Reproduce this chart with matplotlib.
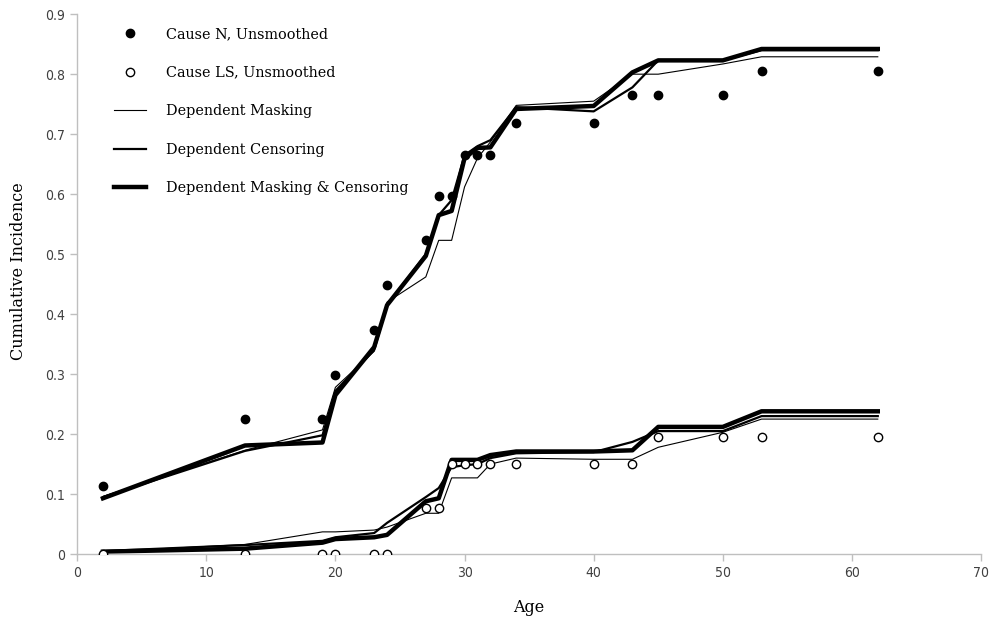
import numpy as np
import matplotlib
matplotlib.use("Agg")
import matplotlib.pyplot as plt

# ages at which the estimates are given
ages = [2, 13, 19, 20, 23, 24, 27, 28, 29, 30, 31, 32, 34, 40, 43, 45, 50, 53, 62]

# cause N
n_unsmoothed = [0.113, 0.225, 0.225, 0.298, 0.373, 0.448, 0.523, 0.597, 0.597, 0.665,
                0.665, 0.665, 0.718, 0.718, 0.765, 0.765, 0.765, 0.806, 0.806]
n_masking = [0.096, 0.173, 0.207, 0.278, 0.338, 0.420, 0.462, 0.523, 0.523, 0.612,
             0.660, 0.687, 0.748, 0.755, 0.800, 0.800, 0.817, 0.829, 0.829]
n_censoring = [0.095, 0.172, 0.198, 0.272, 0.340, 0.415, 0.500, 0.565, 0.590, 0.665,
               0.680, 0.690, 0.745, 0.738, 0.778, 0.823, 0.823, 0.840, 0.840]
n_both = [0.093, 0.181, 0.186, 0.265, 0.345, 0.415, 0.497, 0.565, 0.572, 0.660,
          0.677, 0.678, 0.742, 0.747, 0.803, 0.823, 0.823, 0.842, 0.842]

# cause LS
ls_unsmoothed = [0, 0, 0, 0, 0, 0, 0.077, 0.077, 0.150, 0.150,
                 0.150, 0.150, 0.150, 0.150, 0.150, 0.195, 0.195, 0.195, 0.195]
ls_masking = [0.004, 0.016, 0.037, 0.037, 0.040, 0.045, 0.068, 0.068, 0.127, 0.127,
              0.127, 0.150, 0.160, 0.158, 0.158, 0.178, 0.203, 0.225, 0.225]
ls_censoring = [0.005, 0.015, 0.022, 0.028, 0.035, 0.052, 0.095, 0.110, 0.145, 0.148,
                0.150, 0.160, 0.168, 0.170, 0.187, 0.205, 0.205, 0.230, 0.230]
ls_both = [0.004, 0.009, 0.019, 0.025, 0.028, 0.032, 0.088, 0.093, 0.157, 0.157,
           0.157, 0.165, 0.171, 0.171, 0.173, 0.212, 0.212, 0.238, 0.238]

serif = ['DejaVu Serif']
grey = '#bfbfbf'

fig = plt.figure(figsize=(9.89, 6.17), dpi=100)
ax = fig.add_axes([0.078, 0.102, 0.914, 0.875])

ax.plot(ages, n_unsmoothed, 'o', color='black', ms=6, label='Cause N, Unsmoothed', zorder=5)
ax.plot(ages, ls_unsmoothed, 'o', mfc='white', mec='black', mew=1.0, ms=6,
        label='Cause LS, Unsmoothed', zorder=5)

ax.plot(ages, n_masking, color='black', lw=0.8, label='Dependent Masking')
ax.plot(ages, n_censoring, color='black', lw=1.6, label='Dependent Censoring')
ax.plot(ages, n_both, color='black', lw=3.2, label='Dependent Masking & Censoring')
ax.plot(ages, ls_masking, color='black', lw=0.8)
ax.plot(ages, ls_censoring, color='black', lw=1.6)
ax.plot(ages, ls_both, color='black', lw=3.2)

ax.set_xlim(0, 70)
ax.set_ylim(0, 0.9)
ax.set_xticks(np.arange(0, 71, 10))
ax.set_yticks(np.arange(0, 0.91, 0.1))
ax.set_yticklabels(['0'] + ['%.1f' % v for v in np.arange(0.1, 0.91, 0.1)])

for s in ['top', 'right']:
    ax.spines[s].set_visible(False)
for s in ['left', 'bottom']:
    ax.spines[s].set_color(grey)
    ax.spines[s].set_linewidth(1.0)
ax.tick_params(axis='both', colors=grey, length=5, width=1, direction='out',
               labelcolor='#404040', labelsize=10)
for lab in ax.get_xticklabels() + ax.get_yticklabels():
    lab.set_family('DejaVu Sans')
    lab.set_stretch('condensed')

ax.set_xlabel('Age', family=serif, fontsize=11.5, labelpad=14)
ax.set_ylabel('Cumulative Incidence', family=serif, fontsize=11.5, labelpad=14)
ax.yaxis.set_label_coords(-0.055, 0.525)

leg = ax.legend(loc='upper left', bbox_to_anchor=(0.03, 0.995), frameon=False,
                prop={'family': serif, 'size': 10.4}, labelspacing=1.7,
                handlelength=2.2, handletextpad=1.35, borderaxespad=0.3)

fig.savefig('out.png', dpi=100)
